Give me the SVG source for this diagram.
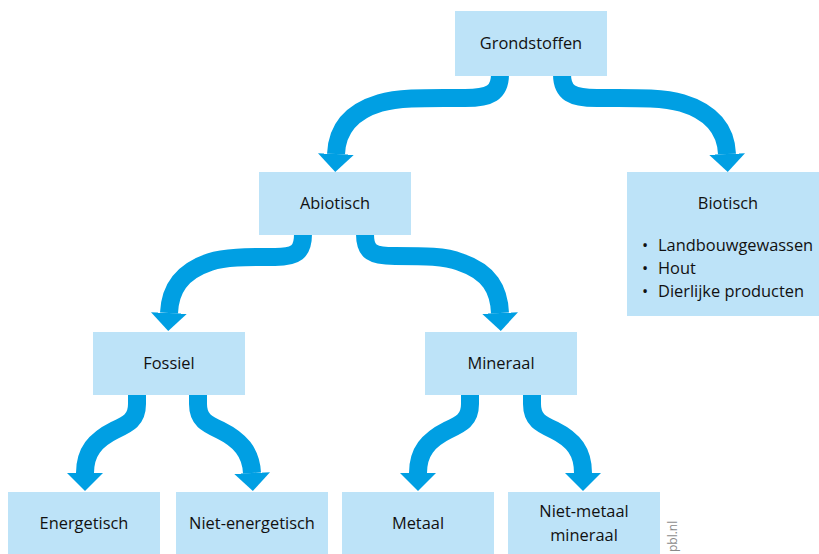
<svg xmlns="http://www.w3.org/2000/svg" width="819" height="554" viewBox="0 0 819 554">
<style>
.box{fill:#bde3f8}
.t{font-family:"Open Sans","Noto Sans",sans-serif;font-size:16.4px;fill:#111;text-anchor:middle}
.l{font-family:"Open Sans","Noto Sans",sans-serif;font-size:16.4px;fill:#111}
.arr{fill:none;stroke:#009fe3;stroke-width:18;marker-end:url(#ah)}
</style>
<defs>
<marker id="ah" markerUnits="userSpaceOnUse" viewBox="0 0 18 36" refX="0" refY="18" markerWidth="18" markerHeight="36" orient="auto">
<path d="M0,0 L18,18 L0,36 z" fill="#009fe3"/>
</marker>
</defs>
<rect width="819" height="554" fill="#fff"/>
<g id="connectors">
<path class="arr" d="M500,74 C500,93 490,98 465,98 C430,98 400,97 380,103 C350,112 337,130 336,154"/>
<path class="arr" d="M562,74 C562,93 572,98 597,98 C632,98 662,97 682,103 C712,112 726,130 727,154"/>
<path class="arr" d="M303,234 C303,252 296,257 275,257 C245,257 225,257 210,262 C180,272 170,290 169,313"/>
<path class="arr" d="M365,234 C365,252 372,256 395,256 C425,256 445,256 460,262 C490,272 499,290 500,313"/>
<path class="arr" d="M137,394 L137,404 C137,420 128,424 115,430 C95,440 85,452 85,473"/>
<path class="arr" d="M198,394 L198,404 C198,420 207,424 220,430 C240,440 251,452 252,473"/>
<path class="arr" d="M470,394 L470,404 C470,420 461,424 448,430 C428,440 418,452 418,473"/>
<path class="arr" d="M532,394 L532,404 C532,420 541,424 554,430 C574,440 583,452 583,473"/>
</g>
<g id="grondstoffen"><rect class="box" x="455" y="11" width="152" height="65"/><text class="t" x="531" y="49">Grondstoffen</text></g>
<g id="abiotisch"><rect class="box" x="259" y="172" width="152" height="63"/><text class="t" x="335" y="209">Abiotisch</text></g>
<g id="biotisch"><rect class="box" x="627" y="172" width="192" height="144"/><text class="t" x="728" y="209">Biotisch</text>
<text class="l" x="642" y="251">•</text><text class="l" x="658" y="251">Landbouwgewassen</text>
<text class="l" x="642" y="274">•</text><text class="l" x="658" y="274">Hout</text>
<text class="l" x="642" y="297">•</text><text class="l" x="658" y="297">Dierlijke producten</text></g>
<g id="fossiel"><rect class="box" x="93" y="332" width="152" height="63"/><text class="t" x="169" y="369">Fossiel</text></g>
<g id="mineraal"><rect class="box" x="425" y="332" width="152" height="63"/><text class="t" x="501" y="369">Mineraal</text></g>
<g id="energetisch"><rect class="box" x="8" y="492" width="152" height="62"/><text class="t" x="84" y="529">Energetisch</text></g>
<g id="niet-energetisch"><rect class="box" x="176" y="492" width="152" height="62"/><text class="t" x="252" y="529">Niet-energetisch</text></g>
<g id="metaal"><rect class="box" x="342" y="492" width="152" height="62"/><text class="t" x="418" y="529">Metaal</text></g>
<g id="niet-metaal"><rect class="box" x="508" y="492" width="152" height="62"/><text class="t" x="584" y="517">Niet-metaal</text><text class="t" x="584" y="541">mineraal</text></g>
<text x="677" y="552" transform="rotate(-90 677 552)" style="font-family:'Open Sans','Noto Sans',sans-serif;font-size:12px;fill:#8a8a8a">pbl.nl</text>
</svg>
